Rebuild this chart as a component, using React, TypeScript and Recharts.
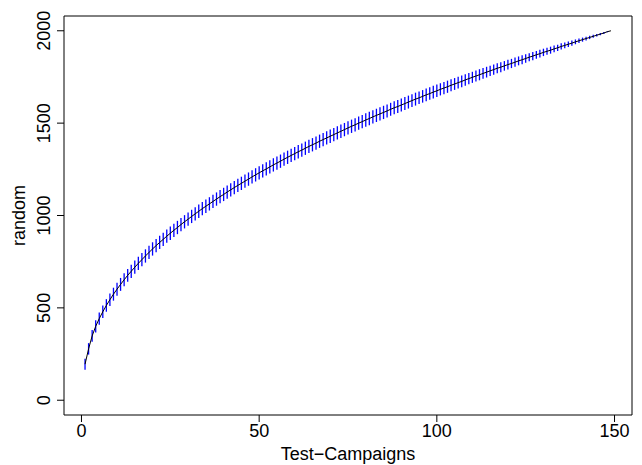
import { LineChart, Line, XAxis, YAxis, ErrorBar, ReferenceArea } from "recharts";

// mean richness per number of test campaigns
const richness = [
  195, 278, 348, 400, 442, 479, 513, 544, 574, 601,
  627, 652, 676, 698, 720, 741, 761, 781, 800, 819,
  837, 854, 871, 888, 904, 920, 935, 951, 966, 980,
  995, 1009, 1023, 1037, 1050, 1063, 1076, 1089, 1102, 1114,
  1127, 1139, 1151, 1163, 1174, 1186, 1197, 1209, 1220, 1231,
  1242, 1252, 1263, 1274, 1284, 1294, 1305, 1315, 1325, 1335,
  1345, 1354, 1364, 1374, 1383, 1392, 1402, 1411, 1420, 1429,
  1438, 1447, 1456, 1465, 1474, 1483, 1491, 1500, 1508, 1517,
  1525, 1534, 1542, 1550, 1558, 1566, 1575, 1583, 1590, 1598,
  1606, 1614, 1622, 1630, 1637, 1645, 1653, 1660, 1668, 1675,
  1683, 1690, 1697, 1705, 1712, 1719, 1726, 1734, 1741, 1748,
  1755, 1762, 1769, 1776, 1783, 1790, 1797, 1803, 1810, 1817,
  1823, 1830, 1837, 1843, 1850, 1857, 1863, 1870, 1876, 1883,
  1889, 1895, 1902, 1908, 1915, 1921, 1927, 1933, 1940, 1946,
  1952, 1958, 1964, 1970, 1976, 1982, 1988, 1995, 2000,
];

// standard deviation (half length of the blue bars)
const sd = [
  30, 31, 32, 33, 33, 34, 34, 34, 35, 35,
  35, 35, 35, 36, 36, 36, 36, 36, 36, 36,
  36, 36, 36, 36, 36, 36, 36, 36, 36, 36,
  36, 36, 36, 36, 36, 36, 36, 36, 36, 36,
  36, 36, 36, 36, 36, 36, 36, 36, 36, 36,
  36, 36, 36, 36, 36, 36, 36, 36, 36, 36,
  36, 36, 36, 36, 36, 36, 36, 36, 36, 36,
  36, 36, 36, 36, 36, 36, 36, 36, 36, 36,
  36, 36, 36, 36, 36, 35, 35, 35, 35, 35,
  35, 35, 35, 35, 34, 34, 34, 34, 34, 34,
  33, 33, 33, 33, 32, 32, 32, 31, 31, 30,
  30, 30, 29, 29, 28, 28, 27, 27, 26, 26,
  25, 25, 24, 24, 23, 22, 22, 21, 21, 20,
  19, 19, 18, 17, 17, 16, 15, 14, 13, 12,
  11, 10, 9, 8, 7, 6, 5, 3, 0,
];

const xTicks = [0, 50, 100, 150];
const yTicks = [0, 500, 1000, 1500, 2000];
const xDomain = [-4.92, 154.92];
const yDomain = [-80, 2080];

const data = richness.map((r, i) => ({ campaign: i + 1, richness: r, sd: sd[i] }));

const FONT = "'Liberation Sans', Arial, Helvetica, sans-serif";

const XTick = (props: any) => (
  <text x={props.x} y={props.y} dy="0.71em" textAnchor="middle" fontSize={18} fill="#000" fontFamily={FONT}>
    {props.payload.value}
  </text>
);

const YTick = (props: any) => (
  <text
    x={props.x}
    y={props.y}
    textAnchor="middle"
    fontSize={18}
    fill="#000"
    fontFamily={FONT}
    transform={`rotate(-90, ${props.x}, ${props.y})`}
  >
    {props.payload.value}
  </text>
);

export default function App() {
  return (
    <div style={{ position: "absolute", left: 0, top: 0, background: "#fff" }}>
      <LineChart width={642} height={465} data={data} margin={{ top: 16, right: 10, bottom: 0, left: 0 }}>
        <XAxis
          dataKey="campaign"
          type="number"
          domain={xDomain}
          ticks={xTicks}
          allowDataOverflow
          axisLine={false}
          tickLine={{ stroke: "#000" }}
          tickSize={7}
          tickMargin={2}
          tick={<XTick />}
          height={50}
          label={{ value: "Test\u2212Campaigns", position: "insideBottom", offset: 5, fontSize: 18, fill: "#000", fontFamily: FONT }}
        />
        <YAxis
          type="number"
          domain={yDomain}
          ticks={yTicks}
          allowDataOverflow
          axisLine={false}
          tickLine={{ stroke: "#000" }}
          tickSize={7}
          tickMargin={7}
          tick={<YTick />}
          width={64}
          label={{ value: "random", angle: -90, position: "insideLeft", offset: 19, fontSize: 18, fill: "#000", fontFamily: FONT, style: { textAnchor: "middle" } }}
        />
        <ReferenceArea x1={xDomain[0]} x2={xDomain[1]} y1={yDomain[0]} y2={yDomain[1]} fill="none" stroke="#000" strokeWidth={1} />
        <Line dataKey="richness" stroke="none" dot={false} isAnimationActive={false}>
          <ErrorBar dataKey="sd" width={0} stroke="#0000ff" strokeWidth={1.3} direction="y" isAnimationActive={false} />
        </Line>
        <Line dataKey="richness" type="linear" stroke="#000" strokeWidth={1} dot={false} isAnimationActive={false} />
      </LineChart>
    </div>
  );
}
